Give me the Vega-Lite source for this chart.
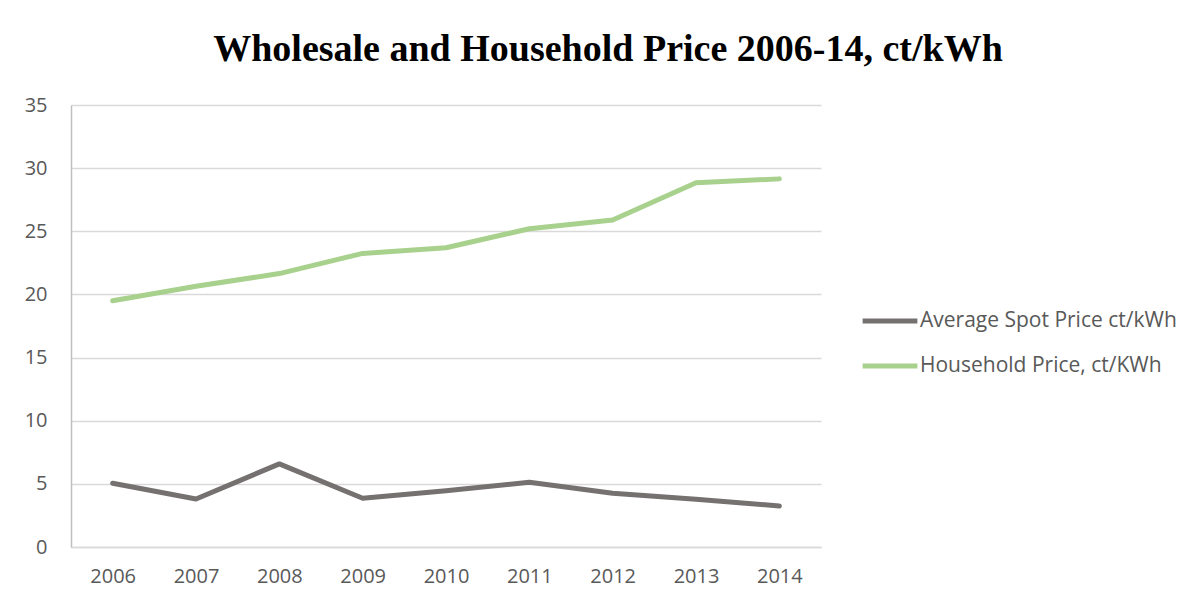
{
  "$schema": "https://vega.github.io/schema/vega-lite/v6.json",
  "width": 750,
  "height": 442,
  "autosize": {"type": "none"},
  "padding": {"left": 71, "top": 105, "right": 376, "bottom": 57},
  "background": "white",
  "title": {
    "text": "Wholesale and Household Price 2006-14, ct/kWh",
    "font": "Liberation Serif",
    "fontSize": 38,
    "fontWeight": "bold",
    "color": "#000000",
    "anchor": "middle",
    "dx": 162,
    "offset": 26
  },
  "data": {
    "values": [
      {"year": "2006", "series": "Average Spot Price ct/kWh", "value": 5.05},
      {"year": "2007", "series": "Average Spot Price ct/kWh", "value": 3.8},
      {"year": "2008", "series": "Average Spot Price ct/kWh", "value": 6.58},
      {"year": "2009", "series": "Average Spot Price ct/kWh", "value": 3.86},
      {"year": "2010", "series": "Average Spot Price ct/kWh", "value": 4.45},
      {"year": "2011", "series": "Average Spot Price ct/kWh", "value": 5.13},
      {"year": "2012", "series": "Average Spot Price ct/kWh", "value": 4.25},
      {"year": "2013", "series": "Average Spot Price ct/kWh", "value": 3.78},
      {"year": "2014", "series": "Average Spot Price ct/kWh", "value": 3.25},
      {"year": "2006", "series": "Household Price, ct/KWh", "value": 19.5},
      {"year": "2007", "series": "Household Price, ct/KWh", "value": 20.65},
      {"year": "2008", "series": "Household Price, ct/KWh", "value": 21.65},
      {"year": "2009", "series": "Household Price, ct/KWh", "value": 23.25},
      {"year": "2010", "series": "Household Price, ct/KWh", "value": 23.7},
      {"year": "2011", "series": "Household Price, ct/KWh", "value": 25.2},
      {"year": "2012", "series": "Household Price, ct/KWh", "value": 25.9},
      {"year": "2013", "series": "Household Price, ct/KWh", "value": 28.85},
      {"year": "2014", "series": "Household Price, ct/KWh", "value": 29.15}
    ]
  },
  "mark": {"type": "line", "strokeWidth": 5, "strokeCap": "round", "strokeJoin": "round"},
  "encoding": {
    "x": {
      "field": "year",
      "type": "ordinal",
      "scale": {"type": "point", "padding": 0.5},
      "axis": {
        "title": null,
        "labelAngle": 0,
        "labelFont": "Open Sans",
        "labelFontSize": 20,
        "labelColor": "#595959",
        "labelPadding": 19,
        "ticks": false,
        "domainColor": "#d9d9d9",
        "domainWidth": 1.5,
        "grid": false
      }
    },
    "y": {
      "field": "value",
      "type": "quantitative",
      "scale": {"domain": [0, 35], "nice": false},
      "axis": {
        "title": null,
        "values": [0, 5, 10, 15, 20, 25, 30, 35],
        "labelFont": "Open Sans",
        "labelFontSize": 20,
        "labelColor": "#595959",
        "labelPadding": 24,
        "ticks": false,
        "domainColor": "#bfbfbf",
        "domainWidth": 1.5,
        "grid": true,
        "gridColor": "#d9d9d9",
        "gridWidth": 1.5
      }
    },
    "color": {
      "field": "series",
      "type": "nominal",
      "scale": {
        "domain": ["Average Spot Price ct/kWh", "Household Price, ct/KWh"],
        "range": ["#767171", "#a9d18e"]
      },
      "legend": {
        "title": null,
        "orient": "none",
        "legendX": 789,
        "legendY": 186,
        "symbolType": "stroke",
        "symbolSize": 3000,
        "symbolStrokeWidth": 5,
        "labelFont": "Open Sans",
        "labelFontSize": 21,
        "labelColor": "#595959",
        "labelOffset": 0,
        "labelLimit": 400,
        "rowPadding": 5
      }
    }
  },
  "config": {
    "view": {"stroke": null}
  }
}
